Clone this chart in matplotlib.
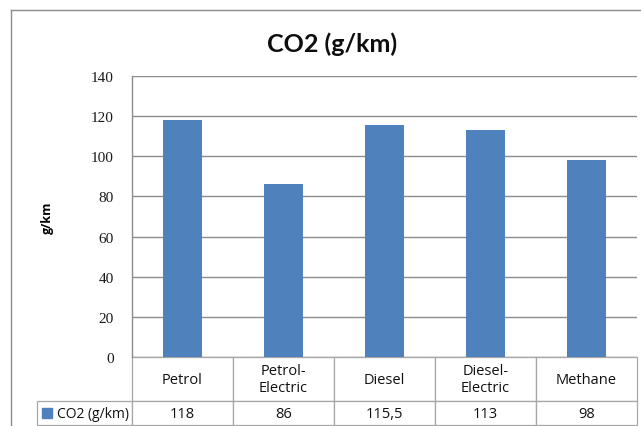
import matplotlib
matplotlib.use("Agg")
import matplotlib.pyplot as plt
from matplotlib.table import Table
from matplotlib.patches import Rectangle

# Data
categories = ["Petrol", "Petrol-\nElectric", "Diesel", "Diesel-\nElectric", "Methane"]
co2_values = [118, 86, 115.5, 113, 98]
value_labels = ["118", "86", "115,5", "113", "98"]
series_name = "CO2 (g/km)"
y_ticks = [0, 20, 40, 60, 80, 100, 120, 140]

BAR_COLOR = "#4F81BD"
GRID_COLOR = "#8C8C8C"
TABLE_EDGE = "#A6A6A6"
SANS = "Open Sans"
TITLE_FONT = "Lato"
SERIF = "Liberation Serif"

W, H = 641, 427
fig = plt.figure(figsize=(W / 100, H / 100), dpi=100)
fig.patch.set_facecolor("white")

# Outer chart frame (partly cropped on right/bottom)
fig.add_artist(plt.Line2D([11 / W, 11 / W], [0, 1 - 11 / H], transform=fig.transFigure,
                          color="#8A8A8A", lw=1.0))
fig.add_artist(plt.Line2D([11 / W, 1], [1 - 11 / H, 1 - 11 / H], transform=fig.transFigure,
                          color="#8A8A8A", lw=1.0))

# Plot area
left, right, top, bottom = 132, 637, 77, 358
ax = fig.add_axes([left / W, 1 - bottom / H, (right - left) / W, (bottom - top) / H])

x = list(range(len(categories)))
ax.bar(x, co2_values, width=0.385, color=BAR_COLOR, zorder=3)
ax.set_xlim(-0.5, len(categories) - 0.5)
ax.set_ylim(0, 140)
ax.set_yticks(y_ticks)
ax.set_yticklabels([str(t) for t in y_ticks], fontfamily=SERIF, fontsize=11, color="#1A1A1A")
ax.set_xticks([])
ax.tick_params(axis="y", length=0, pad=13)
ax.yaxis.grid(True, color=GRID_COLOR, lw=1.0, zorder=0)
for s in ("top", "right", "bottom"):
    ax.spines[s].set_visible(False)
ax.spines["left"].set_color(GRID_COLOR)
ax.spines["left"].set_linewidth(1.0)

ax.set_ylabel("g/km", fontfamily=SANS, fontweight="bold", fontsize=9, labelpad=27)

# Title
fig.text(332 / W, 1 - 44 / H, "CO2 (g/km)", ha="center", va="center",
         fontfamily=TITLE_FONT, fontweight="bold", fontsize=18, color="#0D0D0D")

# Data table below the plot
n = len(categories)
col_w = 1.0 / n
head_h, row_h = 44, 24
tab_h = (head_h + row_h) / (bottom - top)
tbl = Table(ax, bbox=[0, -tab_h, 1, tab_h])


def style(cell, size=10.5):
    cell.set_edgecolor(TABLE_EDGE)
    cell.set_linewidth(0.9)
    t = cell.get_text()
    t.set_fontfamily(SANS)
    t.set_fontsize(size)
    t.set_color("#111111")


for j, cat in enumerate(categories):
    c = tbl.add_cell(0, j, col_w, head_h, text=cat, loc="center")
    style(c)
    c.get_text().set_linespacing(1.15)
for j, lab in enumerate(value_labels):
    c = tbl.add_cell(1, j, col_w, row_h, text=lab, loc="center")
    style(c)
c = tbl.add_cell(1, -1, col_w * 95 / 101, row_h, text=series_name, loc="right")
c.PAD = 0.03
style(c, 10)
tbl.auto_set_font_size(False)
tbl.set_clip_on(False)
ax.add_table(tbl)

# Legend key square in the row header
key_ax = fig.add_axes([0, 0, 1, 1], facecolor="none")
key_ax.set_axis_off()
key_ax.set_xlim(0, W)
key_ax.set_ylim(H, 0)
key_ax.add_patch(Rectangle((42, 409), 10, 10, color=BAR_COLOR))

fig.savefig("out.png", dpi=100, facecolor="white")
